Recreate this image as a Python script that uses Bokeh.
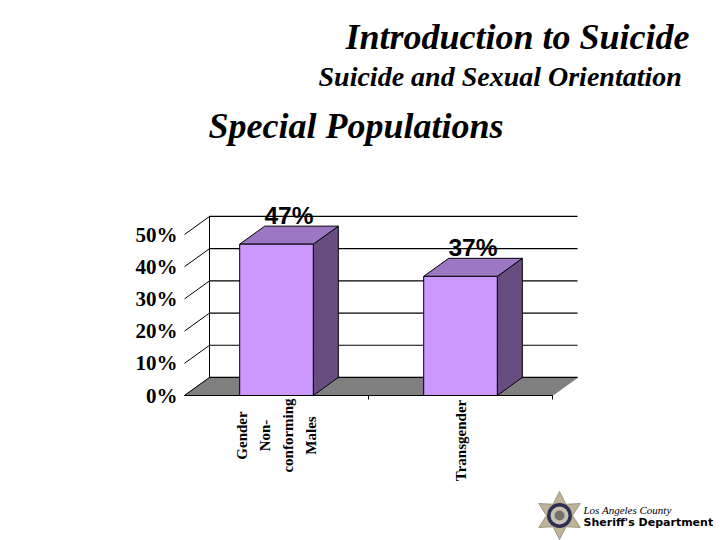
import numpy as np
from bokeh.core.properties import value
from bokeh.embed import file_html
from bokeh.models import ColumnDataSource, FixedTicker, Label, LinearAxis, PrintfTickFormatter, Range1d
from bokeh.plotting import figure
from bokeh.resources import INLINE

# ---- chart data ----
categories = ["Gender\nNon-\nconforming\nMales", "Transgender"]
category_pos = [0.5, 1.5]
values = [47, 37]
value_labels = ["47%", "37%"]
y_ticks = [0, 10, 20, 30, 40, 50]
x_ticks = [1, 2]

title_main = "Introduction to Suicide"
title_sub = "Suicide and Sexual Orientation"
title_section = "Special Populations"
logo_top = "Los Angeles County"
logo_bottom = "Sheriff's Department"

# ---- 3D look ----
BAR_W = 0.4
DX = 0.136
DY = 5.6
FRONT, TOP, SIDE = "#CC99FF", "#9C77C4", "#664E80"
FLOOR = "#808080"

W, H = 720, 540
PX_X, PX_Y = 184.0, 3.22
x_range = Range1d(-184 / PX_X, (720 - 184) / PX_X)
y_range = Range1d(-(540 - 395) / PX_Y, 395 / PX_Y)

p = figure(width=W, height=H, x_range=x_range, y_range=y_range,
           x_axis_location=None, y_axis_location=None,
           toolbar_location=None, output_backend="svg",
           min_border=0, outline_line_color=None, background_fill_color="white")
p.grid.visible = False

x_lo, x_hi = 0, 2
y_top = max(y_ticks)

# floor
p.patch([x_lo, x_lo + DX, x_hi + DX, x_hi], [0, DY, DY, 0],
        fill_color=FLOOR, line_color=FLOOR, line_width=1)
# back wall lines and left-wall depth lines
p.segment(x0=[x_lo + DX] * len(y_ticks), y0=[t + DY for t in y_ticks],
          x1=[x_hi + DX] * len(y_ticks), y1=[t + DY for t in y_ticks],
          line_color="black", line_width=1.2)
p.segment(x0=[x_lo] * len(y_ticks), y0=y_ticks,
          x1=[x_lo + DX] * len(y_ticks), y1=[t + DY for t in y_ticks],
          line_color="black", line_width=1)
p.segment(x0=[x_lo + DX], y0=[DY], x1=[x_lo + DX], y1=[y_top + DY],
          line_color="black", line_width=1)

# bars
src = ColumnDataSource(dict(x=category_pos, top=values))
side_x = [[c + BAR_W / 2, c + BAR_W / 2 + DX, c + BAR_W / 2 + DX, c + BAR_W / 2] for c in category_pos]
side_y = [[0, DY, v + DY, v] for v in values]
top_x = [[c - BAR_W / 2, c - BAR_W / 2 + DX, c + BAR_W / 2 + DX, c + BAR_W / 2] for c in category_pos]
top_y = [[v, v + DY, v + DY, v] for v in values]
p.patches(side_x, side_y, fill_color=SIDE, line_color="black", line_width=1)
p.patches(top_x, top_y, fill_color=TOP, line_color="black", line_width=1)
p.vbar(x="x", top="top", bottom=0, width=BAR_W, source=src,
       fill_color=FRONT, line_color="black", line_width=1)

# axes
yax = LinearAxis(fixed_location=0, ticker=FixedTicker(ticks=y_ticks),
                 formatter=PrintfTickFormatter(format="%d%%"))
yax.axis_line_color = None
yax.major_tick_line_color = None
yax.minor_tick_line_color = None
yax.major_tick_in = 0
yax.major_tick_out = 0
yax.major_label_standoff = 7
yax.major_label_text_font = "Liberation Serif"
yax.major_label_text_font_style = "bold"
yax.major_label_text_font_size = "21px"
yax.major_label_text_color = "black"
p.add_layout(yax, "left")

xax = LinearAxis(fixed_location=0, ticker=FixedTicker(ticks=x_ticks), bounds=(x_lo, x_hi),
                 major_label_overrides={t: "" for t in x_ticks})
xax.major_tick_in = 0
xax.major_tick_out = 4
xax.minor_tick_line_color = None
xax.axis_line_color = "black"
xax.axis_line_width = 1.2
p.add_layout(xax, "below")

# value labels
p.text(x=[c + DX / 2 for c in category_pos], y=[v + DY for v in values], text=value_labels,
       y_offset=-10.5, text_align="center", text_baseline="alphabetic",
       text_font=value("Liberation Sans"), text_font_style="bold", text_font_size="24.5px", text_color="black")

# category labels
p.text(x=category_pos, y=[0, 0], text=categories, angle=np.pi / 2,
       x_offset=[0, 0], y_offset=[40, 45],
       text_align="center", text_baseline="middle", text_line_height=1.42,
       text_font=value("Liberation Serif"), text_font_style="bold", text_font_size="15px", text_color="black")

# page titles
def screen_label(text, px, py, font, size, style, **kw):
    p.add_layout(Label(x=px, y=540 - py, x_units="screen", y_units="screen", text=text,
                       text_font=font, text_font_size=size, text_font_style=style,
                       text_color="black", text_baseline="alphabetic", **kw))

screen_label(title_main, 345, 36, "Liberation Serif", "36px", "bold italic")
screen_label(title_sub, 318, 76, "Liberation Serif", "28px", "bold italic")
screen_label(title_section, 208, 125, "Liberation Serif", "36px", "bold italic")

# logo (star badge)
cx, cy, R, r = 559, 515, 24, 13
ang = np.deg2rad(np.arange(0, 360, 30) + 90)
rad = np.where(np.arange(12) % 2 == 0, R, r)
star_x = (cx + rad * np.cos(ang)) / PX_X + x_range.start
star_y = (540 - cy - rad * np.sin(ang)) / PX_Y + y_range.start
star_x, star_y = star_x.tolist(), star_y.tolist()
p.patch(star_x, star_y, fill_color="#BFB49A", line_color="#8F8770", line_width=0.8)
sx = cx / PX_X + x_range.start
sy = (540 - cy) / PX_Y + y_range.start
p.scatter([sx], [sy], size=25, marker="circle", fill_color="#2E2F55", line_color=None)
p.scatter([sx], [sy], size=18, marker="circle", fill_color="#C8C2B0", line_color=None)
p.scatter([sx], [sy], size=10, marker="circle", fill_color="#77736A", line_color=None)
screen_label(logo_top, 583, 509, "Liberation Serif", "11px", "italic")
screen_label(logo_bottom, 583, 522, "DejaVu Sans", "11px", "bold")

open("out.html", "w").write(file_html(p, INLINE))
